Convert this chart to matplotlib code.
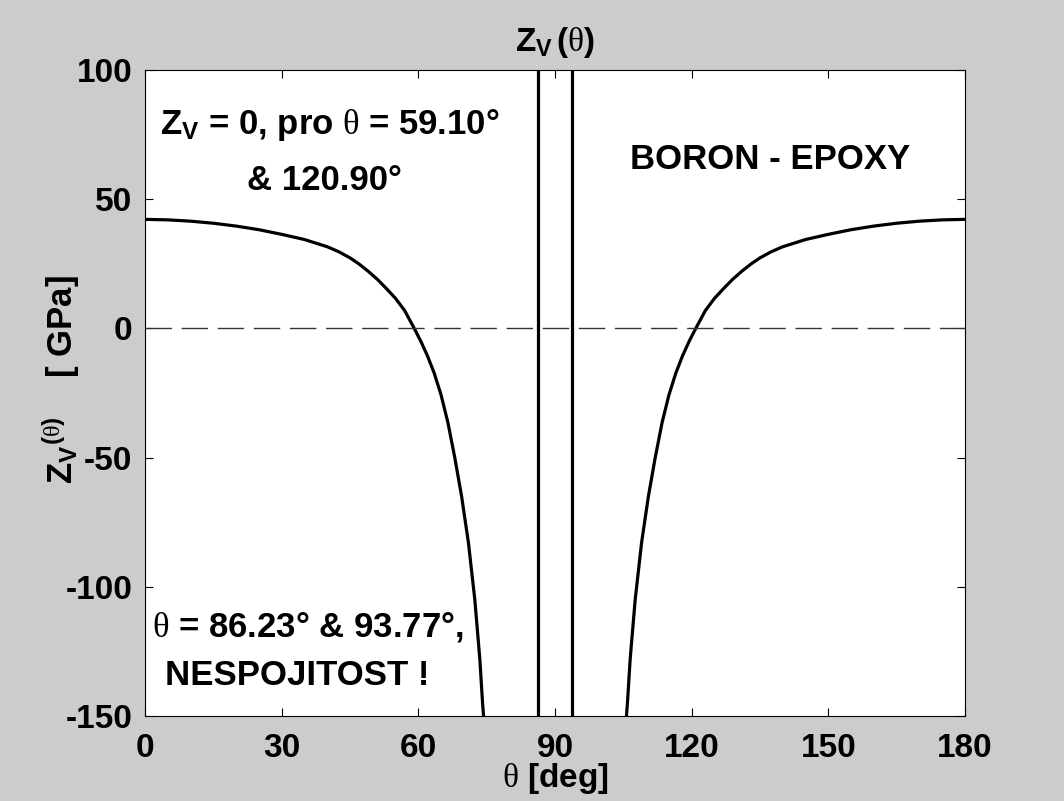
import matplotlib
matplotlib.use("Agg")
import matplotlib.pyplot as plt

plt.rcParams['mathtext.fontset'] = 'custom'
plt.rcParams['mathtext.rm'] = 'Liberation Sans:bold'
plt.rcParams['mathtext.bf'] = 'Liberation Sans:bold'
plt.rcParams['mathtext.sf'] = 'Liberation Serif:normal'
plt.rcParams['mathtext.it'] = 'Liberation Serif:normal'
plt.rcParams['font.family'] = 'Liberation Sans'
plt.rcParams['font.weight'] = 'bold'
plt.rcParams['axes.unicode_minus'] = False

# left branch (theta < 86.23)
theta_l = [0, 5, 10, 15, 20, 25, 30, 35, 40, 42.5, 45, 47, 49, 51, 53, 55, 57,
           59.1, 60.5, 62, 63.5, 65, 66.5, 68, 69.5, 71, 72.4, 73.5, 74.1, 74.4]
zv_l = [42.2, 42.0, 41.5, 40.7, 39.6, 38.2, 36.4, 34.4, 31.6, 29.7, 27.3, 24.9,
        22.1, 19.0, 15.4, 11.6, 6.9, 0.0, -4.8, -10.6, -17.4, -25.8, -36.5,
        -50.0, -65.0, -83.0, -105.0, -128.0, -145.0, -152.0]
# right branch (theta > 93.77)
theta_r = [105.6, 105.9, 106.5, 107.6, 109.0, 110.5, 112.0, 113.5, 115.0, 116.5,
           118.0, 119.5, 120.9, 123.0, 125.0, 127.0, 129.0, 131.0, 133.0, 135.0,
           137.5, 140, 145, 150, 155, 160, 165, 170, 175, 180]
zv_r = [-152.0, -145.0, -128.0, -105.0, -83.0, -65.0, -50.0, -36.5, -25.8, -17.4,
        -10.6, -4.8, 0.0, 6.9, 11.6, 15.4, 19.0, 22.1, 24.9, 27.3, 29.7, 31.6,
        34.4, 36.4, 38.2, 39.6, 40.7, 41.5, 42.0, 42.2]
theta_disc = [86.23, 93.77]

xticks = [0, 30, 60, 90, 120, 150, 180]
yticks = [-150, -100, -50, 0, 50, 100]

fig = plt.figure(figsize=(10.64, 8.01), dpi=100, facecolor='#cccccc')
ax = fig.add_axes([145 / 1064, 1 - 716 / 801, 820 / 1064, 646 / 801])
ax.set_facecolor('white')

ax.plot(theta_l, zv_l, color='black', lw=2.3, solid_capstyle='butt')
ax.plot(theta_r, zv_r, color='black', lw=2.3, solid_capstyle='butt')
for t in theta_disc:
    ax.axvline(t, color='black', lw=2.3)
ax.axhline(0, color='#333333', lw=1.0, dashes=(19, 7))

ax.set_xlim(0, 180)
ax.set_ylim(-150, 100)
ax.set_xticks(xticks)
ax.set_yticks(yticks)
ax.tick_params(direction='in', length=6, width=0.8, top=True, right=True,
               labelsize=24, colors='black')
ax.tick_params(axis='x', pad=12)
ax.tick_params(axis='y', pad=9)
for lab in ax.get_xticklabels() + ax.get_yticklabels():
    lab.set_fontweight('bold')
for sp in ax.spines.values():
    sp.set_linewidth(0.8)

ax.set_title(r'$\mathrm{Z_V}\,(\mathsf{\theta})$', fontsize=24, pad=14,
             fontweight='bold')
ax.set_xlabel(r'$\mathsf{\theta}$ [deg]', fontsize=24, labelpad=-2,
              fontweight='bold')
ax.set_ylabel(r'$\mathrm{Z_V}^{(\mathsf{\theta})}$    [ GPa]', fontsize=25,
              fontweight='bold')
ax.yaxis.set_label_coords(-0.077, 0.52)

fs = 25
ax.text(3.3, 78.7, r'$\mathrm{Z_V}$ = 0, pro $\mathsf{\theta}$ = 59.10°', fontsize=fs,
        va='center', ha='left')
ax.text(22.4, 57.4, '& 120.90°', fontsize=fs, va='center', ha='left')
ax.text(106.5, 65.2, 'BORON - EPOXY', fontsize=fs, va='center', ha='left')
ax.text(1.5, -115.5, r'$\mathsf{\theta}$ = 86.23° & 93.77°,', fontsize=fs,
        va='center', ha='left')
ax.text(4.4, -134.5, 'NESPOJITOST !', fontsize=fs, va='center', ha='left')

fig.savefig('out.png', dpi=100, facecolor=fig.get_facecolor())
